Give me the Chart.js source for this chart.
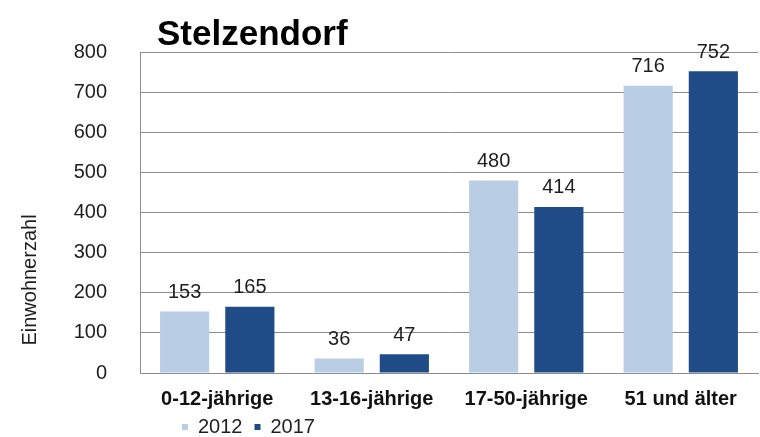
<!DOCTYPE html>
<html>
<head>
<meta charset="utf-8">
<script src="https://cdn.jsdelivr.net/npm/chart.js@4.4.1/dist/chart.umd.min.js"></script>
<style>
  html, body { margin: 0; padding: 0; background: #fff; }
  #wrap { width: 760px; height: 437px; }
</style>
</head>
<body>
<div id="wrap"><canvas id="chart"></canvas></div>
<script>
const chartTitle = "Stelzendorf";
const axisTitle = "Einwohnerzahl";
const categories = ["0-12-jährige", "13-16-jährige", "17-50-jährige", "51 und älter"];
const values2012 = [153, 36, 480, 716];
const values2017 = [165, 47, 414, 752];
const yTicks = [0, 100, 200, 300, 400, 500, 600, 700, 800];

const FONT = "'Liberation Sans', Arial, sans-serif";
const GRID = "#8c8c8c";
const TEXT = "#1e1e1e";
const LEGEND_PAD = 12;

// title, rotated axis title and value labels drawn on the canvas
const extras = {
    id: "extras",
    afterLayout(chart) {
        // put the legend under the first category, like the original
        const lg = chart.legend;
        const w = lg.right - lg.left, h = lg.bottom - lg.top;
        lg.left = 182 - LEGEND_PAD; lg.right = lg.left + w;
        lg.top = 427 - LEGEND_PAD - 10; lg.bottom = lg.top + h;
    },
    afterDatasetsDraw(chart) {
        const ctx = chart.ctx;
        ctx.save();
        ctx.fillStyle = TEXT;
        ctx.font = "20px " + FONT;
        ctx.textAlign = "center";
        ctx.textBaseline = "middle";
        chart.data.datasets.forEach((ds, i) => {
            chart.getDatasetMeta(i).data.forEach((bar, j) => {
                ctx.fillText(String(ds.data[j]), bar.x, bar.y - 19);
            });
        });
        ctx.font = "bold 35px " + FONT;
        ctx.textAlign = "left";
        ctx.textBaseline = "alphabetic";
        ctx.fillStyle = "#000";
        ctx.fillText(chartTitle, 157, 45);
        ctx.translate(30, 280);
        ctx.rotate(-Math.PI / 2);
        ctx.font = "20px " + FONT;
        ctx.textAlign = "center";
        ctx.textBaseline = "middle";
        ctx.fillStyle = TEXT;
        ctx.fillText(axisTitle, 0, 0);
        ctx.restore();
    }
};

new Chart(document.getElementById("chart"), {
    type: "bar",
    data: {
        labels: categories,
        datasets: [
            { label: "2012", data: values2012, backgroundColor: "#b9cde5" },
            { label: "2017", data: values2017, backgroundColor: "#1f4b87" }
        ]
    },
    options: {
        responsive: true,
        maintainAspectRatio: false,
        animation: false,
        categoryPercentage: 0.844,
        barPercentage: 0.754,
        layout: { padding: { top: 52, right: 2, left: 0, bottom: -30 } },
        plugins: {
            tooltip: { enabled: false },
            legend: {
                position: "bottom",
                align: "start",
                labels: {
                    boxWidth: 6,
                    boxHeight: 6,
                    padding: LEGEND_PAD,
                    color: TEXT,
                    font: { family: FONT, size: 20 }
                }
            }
        },
        scales: {
            x: {
                grid: { display: false, drawTicks: false },
                border: { color: GRID, width: 1 },
                ticks: {
                    padding: 14,
                    color: "#111",
                    font: { family: FONT, size: 20, weight: "bold" }
                }
            },
            y: {
                min: 0,
                max: 800,
                afterBuildTicks(scale) { scale.ticks = yTicks.map(v => ({ value: v })); },
                grid: { color: GRID, lineWidth: 1, drawTicks: false },
                border: { color: GRID, width: 1 },
                ticks: {
                    padding: 33,
                    color: TEXT,
                    font: { family: FONT, size: 20 }
                },
                afterFit(scale) { scale.width = 140; }
            }
        }
    },
    plugins: [extras]
});
</script>
</body>
</html>
